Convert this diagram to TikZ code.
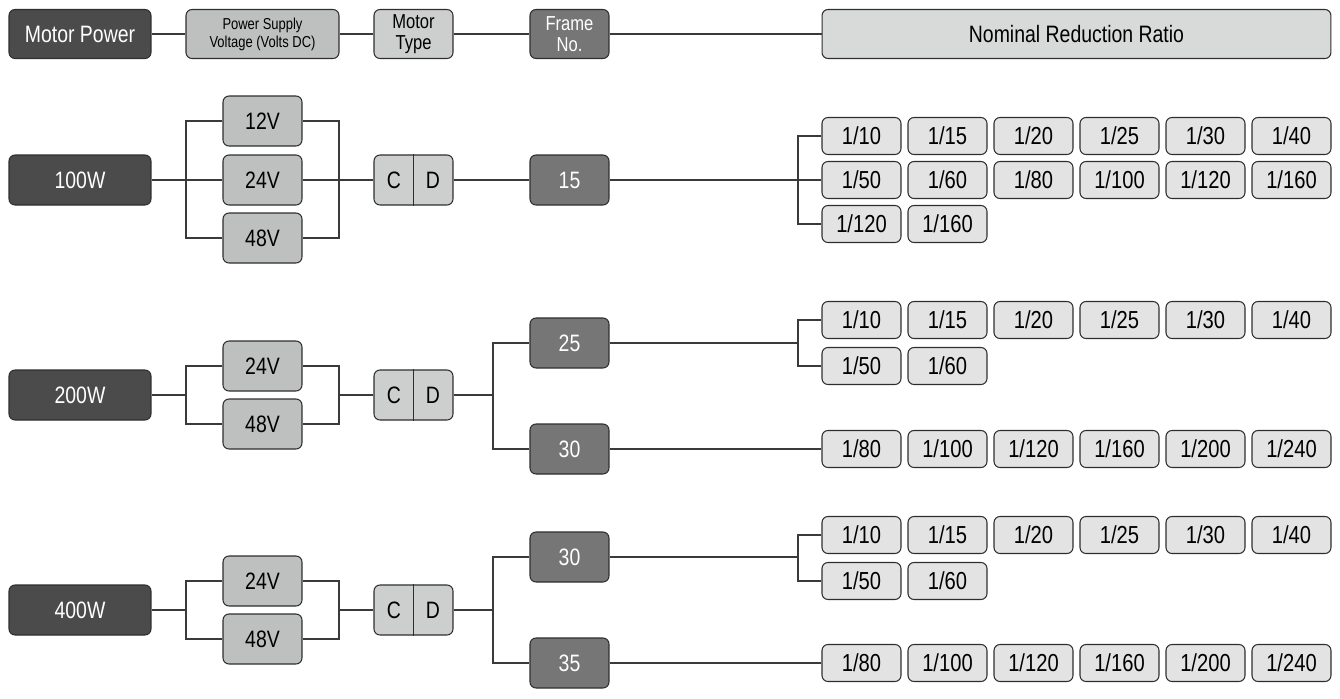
\documentclass[tikz,border=0pt]{standalone}
\usepackage{fontspec}
\setmainfont{Liberation Sans}[FakeStretch=0.82]
\definecolor{pwrfill}{HTML}{4A4B4A}
\definecolor{framefill}{HTML}{757675}
\definecolor{voltfill}{HTML}{BEC0C0}
\definecolor{typefill}{HTML}{CDCFCE}
\definecolor{ratiofill}{HTML}{E2E3E2}
\definecolor{nomfill}{HTML}{D8DAD9}
\definecolor{edgegray}{HTML}{2E2E2E}
\definecolor{linegray}{HTML}{3A3A3A}
\begin{document}
\begin{tikzpicture}[x=0.02cm,y=-0.02cm,
		box/.style={draw=edgegray,line width=0.6pt,rounded corners=0.12cm,inner sep=0pt,minimum height=1cm,font=\fontsize{13.5}{15}\selectfont},
		pwrbox/.style={box,fill=pwrfill,text=white,minimum width=2.84cm},
		voltbox/.style={box,fill=voltfill,minimum width=1.58cm},
		typebox/.style={box,fill=typefill,minimum width=1.58cm},
		framebox/.style={box,fill=framefill,text=white,minimum width=1.58cm},
		ratiobox/.style={box,fill=ratiofill,minimum width=1.58cm,minimum height=0.74cm,font=\fontsize{14}{16}\selectfont},
		headbox/.style={minimum height=0.98cm},
		twoline/.style={align=center,font=\fontsize{11.5}{11.9}\selectfont},
		lbl/.style={inner sep=0pt,font=\fontsize{13.5}{15}\selectfont},
		link/.style={draw=linegray,line width=0.6pt}]
		\useasboundingbox (0,0) rectangle (1340,698);
		% header
		\node[pwrbox,headbox] (hpow) at (80,34) {Motor Power};
		\node[voltbox,headbox,minimum width=3.06cm,align=center,font=\fontsize{9}{10.2}\selectfont] (hvolt) at (262.5,34) {Power Supply\\Voltage (Volts DC)};
		\node[typebox,headbox,twoline] (htype) at (413.5,34) {Motor\\Type};
		\node[framebox,headbox,twoline] (hframe) at (569.5,34) {Frame\\No.};
		\node[box,headbox,fill=nomfill,minimum width=10.18cm] (hratio) at (1076.5,34) {Nominal Reduction Ratio};
		\draw[link] (hpow) -- (hvolt) -- (htype) -- (hframe) -- (hratio);
		% power and motor type
		\foreach \w/\y in {100/180,200/395,400/610}{\node[pwrbox] (p\w) at (80,\y) {\w W};\node[typebox] (cd\w) at (413.5,\y) {};\draw[edgegray,line width=0.6pt] (cd\w.north) -- (cd\w.south);\node[lbl] (cdc\w) at (394,\y) {C};\node[lbl] (cdd\w) at (433,\y) {D};}
		% 100W
		\node[voltbox] (v100a) at (262.5,121) {12V};
		\node[voltbox] (v100b) at (262.5,180) {24V};
		\node[voltbox] (v100c) at (262.5,238) {48V};
		\coordinate (l100) at (186,180);
		\coordinate (k100) at (339,180);
		\draw[link] (p100) -- (v100b) -- (cd100);
		\draw[link] (v100a.west) -| (l100) |- (v100c.west);
		\draw[link] (v100a.east) -| (k100) |- (v100c.east);
		\node[framebox] (f115) at (569.5,180) {15};
		\foreach \lab [count=\i from 0] in {1/10,1/15,1/20,1/25,1/30,1/40}{\node[ratiobox] (rt115a\i) at ({861.5+86*\i},136) {\lab};}
		\foreach \lab [count=\i from 0] in {1/50,1/60,1/80,1/100,1/120,1/160}{\node[ratiobox] (rt115b\i) at ({861.5+86*\i},180) {\lab};}
		\foreach \lab [count=\i from 0] in {1/120,1/160}{\node[ratiobox] (rt115c\i) at ({861.5+86*\i},224) {\lab};}
		\coordinate (g115) at (798,180);
		\draw[link] (cd100) -- (f115) -- (rt115b0);
		\draw[link] (rt115a0.west) -| (g115) |- (rt115c0.west);
		% 200W
		\node[voltbox] (v200a) at (262.5,366) {24V};
		\node[voltbox] (v200b) at (262.5,424) {48V};
		\coordinate (l200) at (186,395);
		\coordinate (k200) at (339,395);
		\draw[link] (p200) -- (l200);
		\draw[link] (v200a.west) -| (l200) |- (v200b.west);
		\draw[link] (v200a.east) -| (k200) |- (v200b.east);
		\draw[link] (k200) -- (cd200);
		\node[framebox] (f225) at (569.5,343) {25};
		\node[framebox] (f230) at (569.5,449) {30};
		\coordinate (b200) at (493,395);
		\draw[link] (cd200) -- (b200);
		\draw[link] (f225.west) -| (b200) |- (f230.west);
		\foreach \lab [count=\i from 0] in {1/10,1/15,1/20,1/25,1/30,1/40}{\node[ratiobox] (rt225a\i) at ({861.5+86*\i},320) {\lab};}
		\foreach \lab [count=\i from 0] in {1/50,1/60}{\node[ratiobox] (rt225b\i) at ({861.5+86*\i},366) {\lab};}
		\foreach \lab [count=\i from 0] in {1/80,1/100,1/120,1/160,1/200,1/240}{\node[ratiobox] (rt230a\i) at ({861.5+86*\i},449) {\lab};}
		\coordinate (g225) at (798,343);
		\draw[link] (f225) -- (g225);
		\draw[link] (rt225a0.west) -| (g225) |- (rt225b0.west);
		\draw[link] (f230) -- (rt230a0);
		% 400W
		\node[voltbox] (v400a) at (262.5,581) {24V};
		\node[voltbox] (v400b) at (262.5,639) {48V};
		\coordinate (l400) at (186,610);
		\coordinate (k400) at (339,610);
		\draw[link] (p400) -- (l400);
		\draw[link] (v400a.west) -| (l400) |- (v400b.west);
		\draw[link] (v400a.east) -| (k400) |- (v400b.east);
		\draw[link] (k400) -- (cd400);
		\node[framebox] (f430) at (569.5,557) {30};
		\node[framebox] (f435) at (569.5,663) {35};
		\coordinate (b400) at (493,610);
		\draw[link] (cd400) -- (b400);
		\draw[link] (f430.west) -| (b400) |- (f435.west);
		\foreach \lab [count=\i from 0] in {1/10,1/15,1/20,1/25,1/30,1/40}{\node[ratiobox] (rt430a\i) at ({861.5+86*\i},535) {\lab};}
		\foreach \lab [count=\i from 0] in {1/50,1/60}{\node[ratiobox] (rt430b\i) at ({861.5+86*\i},581) {\lab};}
		\foreach \lab [count=\i from 0] in {1/80,1/100,1/120,1/160,1/200,1/240}{\node[ratiobox] (rt435a\i) at ({861.5+86*\i},663) {\lab};}
		\coordinate (g430) at (798,557);
		\draw[link] (f430) -- (g430);
		\draw[link] (rt430a0.west) -| (g430) |- (rt430b0.west);
		\draw[link] (f435) -- (rt435a0);
	\end{tikzpicture}
\end{document}
